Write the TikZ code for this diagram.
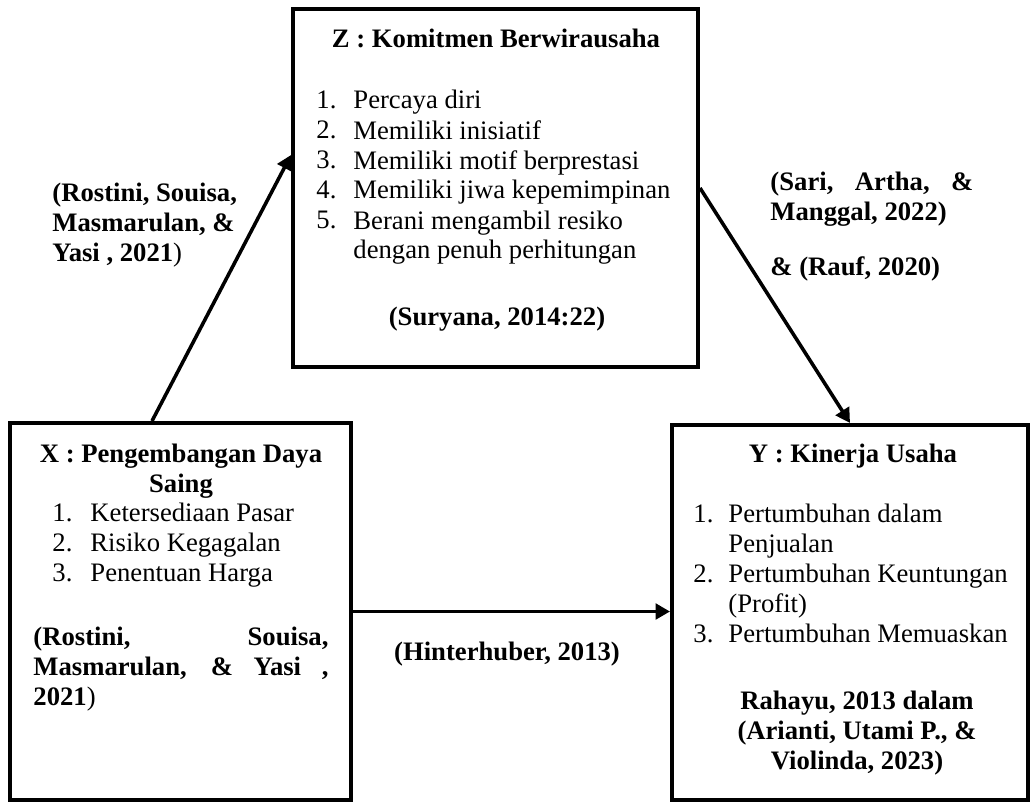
\documentclass[tikz,border=0pt]{standalone}
\usepackage{fontspec}
\setmainfont{Liberation Serif}
\usetikzlibrary{arrows.meta,calc,fit}

\begin{document}
\begin{tikzpicture}[x=0.45pt,y=-0.45pt,
    every node/.style={inner sep=0pt,font=\fontsize{12}{13.4}\selectfont},
    box/.style={draw,line width=1.8pt},
    arr/.style={line width=1.6pt,-{Triangle[length=6.5pt,width=7pt]}},
    judul/.style={font=\fontsize{12}{13.4}\selectfont\bfseries,align=center,anchor=base},
    sumber/.style={font=\fontsize{12}{13.4}\selectfont\bfseries,align=left,anchor=base west}]
  \useasboundingbox (0,0) rectangle (1031,803);
  % kotak variabel: Z di atas, X kiri bawah, Y kanan bawah
  \node[box,fit={(293,9)(698,367)}] (zbox) {};
  \node[box,fit={(10,423)(351,800)}] (xbox) {};
  \node[box,fit={(672,425)(1028,800)}] (ybox) {};

  % Z : Komitmen Berwirausaha
  \node[judul] (ztitle) at (496,47) {Z : Komitmen Berwirausaha};
  \foreach \txt [count=\i] in {Percaya diri,Memiliki inisiatif,Memiliki motif berprestasi,Memiliki jiwa kepemimpinan,{Berani mengambil resiko\\dengan penuh perhitungan}}{
    \node[anchor=base west] (znum\i) at (316,78+30*\i) {\i.};
    \node[anchor=north west,align=left] (zitem\i) at ($(znum\i.north west)+(37,0)$) {\txt};
  }
  \node[judul] (zsrc) at (497,325) {(Suryana, 2014:22)};

  % X : Pengembangan Daya Saing
  \node[judul] (xtitle) at (181,492) {X : Pengembangan Daya\\Saing};
  \foreach \txt [count=\i] in {Ketersediaan Pasar,Risiko Kegagalan,Penentuan Harga}{
    \node[anchor=base west] (xnum\i) at (52,492+29.7*\i) {\i.};
    \node[anchor=base west] (xitem\i) at (90,492+29.7*\i) {\txt};
  }
  \node[sumber] (xsrc) at (33,705)
    {\makebox[132.75pt][s]{(Rostini, Souisa,}\\\makebox[132.75pt][s]{Masmarulan, \& Yasi ,}\\2021\mdseries)};

  % Y : Kinerja Usaha
  \node[judul] (ytitle) at (853,462) {Y : Kinerja Usaha};
  \foreach \txt [count=\i] in {{Pertumbuhan dalam\\Penjualan},{Pertumbuhan Keuntungan\\(Profit)},Pertumbuhan Memuaskan}{
    \node[anchor=base west] (ynum\i) at (693,462+60*\i) {\i.};
    \node[anchor=north west,align=left] (yitem\i) at ($(ynum\i.north west)+(35,0)$) {\txt};
  }
  \node[judul] (ysrc) at (857,769) {Rahayu, 2013 dalam\\(Arianti, Utami P., \&\\Violinda, 2023)};

  % sumber pada panah
  \node[sumber] (lsrc) at (52,261) {(Rostini, Souisa,\\Masmarulan, \&\\Yasi , 2021\mdseries)};
  \node[sumber] (rsrc) at (770,220) {\makebox[91.35pt][s]{(Sari, Artha, \&}\\Manggal, 2022)};
  \node[sumber] (rsrc2) at (770,275) {\& (Rauf, 2020)};
  \node[judul] (hsrc) at (507,660) {(Hinterhuber, 2013)};

  % panah hubungan
  \draw[arr] ($(xbox.north)+(-28.5,0)$) -- ($(zbox.west)+(0,-33)$);
  \draw[arr] (zbox.east) -- (ybox.north);
  \draw[arr] (xbox.east) -- (xbox.east -| ybox.west);
\end{tikzpicture}
\end{document}
